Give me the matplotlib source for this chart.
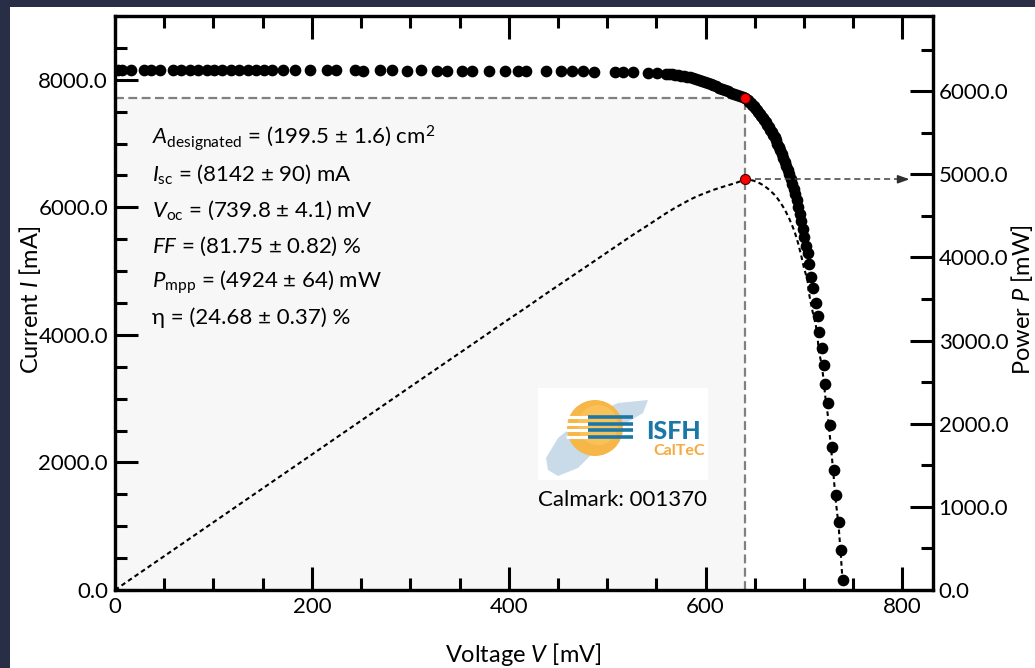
import matplotlib
matplotlib.use("Agg")
import matplotlib.pyplot as plt
from matplotlib.patches import Rectangle, Circle, Ellipse, Polygon
from matplotlib.ticker import MultipleLocator, FuncFormatter
import numpy as np

# ---------------- data ----------------
voltage_mV = [3, 7, 16, 29, 37, 46, 59, 67, 76, 84, 93, 101, 109, 118, 126, 135, 143, 151, 160,
              171, 183, 198, 215, 225, 244, 252, 269, 281, 297, 311, 327, 337, 353, 363, 380,
              396, 409, 418, 438, 453, 464, 475, 487, 508, 516, 526, 541, 551,
              560, 563, 566, 569, 572, 575, 578, 581, 584, 587, 590, 593, 596, 599, 602, 605,
              608, 611, 614, 617, 620, 623, 626, 629, 632, 635, 638, 640,
              643, 644.5, 646, 647.5, 649, 650.5, 652, 653.5, 655, 656.5, 658, 659.5, 661,
              662.5, 664, 665.5, 667, 668.5, 670, 671.5, 673, 674.5, 676, 677.5, 679, 680.5,
              682, 683.5, 685, 686.5, 688, 689.5, 691, 692.5, 694, 695.5, 697, 698.5, 700,
              702, 703.6, 704.6, 706.6, 708.6, 711.7, 713.7, 714.7, 717.8,
              719.8, 721.5, 724.0, 726.0, 728.0, 730.0, 732.0, 735.0, 737.1, 739.1]
current_mA = [8150, 8155, 8155, 8150, 8155, 8150, 8152, 8150, 8150, 8152, 8150, 8150, 8152, 8150,
              8150, 8152, 8150, 8150, 8150,
              8152, 8150, 8150, 8148, 8150, 8148, 8145, 8150, 8148, 8145, 8148, 8145, 8140,
              8145, 8142, 8145, 8145, 8140, 8135, 8140, 8135, 8130, 8130, 8125, 8125, 8122,
              8120, 8105, 8100,
              8095, 8090, 8085, 8080, 8072, 8065, 8057, 8048, 8040, 8028, 8015, 8000, 7985,
              7968, 7952, 7935, 7917, 7898, 7878, 7858, 7838, 7817, 7796, 7775, 7757, 7740,
              7728, 7720,
              7680, 7658, 7635, 7610, 7585, 7558, 7530, 7500, 7470, 7438, 7405, 7370, 7335,
              7298, 7260, 7220, 7180, 7138, 7095, 7048, 7000, 6948, 6895, 6838, 6780, 6718,
              6655, 6588, 6520, 6445, 6370, 6290, 6205, 6110, 6010, 5895, 5780, 5655, 5530,
              5400, 5283, 5110, 4906, 4733, 4497, 4292,
              4041, 3789, 3522, 3235, 2925, 2594, 2248, 1887, 1494, 1069, 629, 157]

v_mpp = 640.0
i_mpp = 7720.0

param_lines = [
    r"$A_{\mathrm{designated}}$ = (199.5 ± 1.6) cm$^{2}$",
    r"$I_{\mathrm{sc}}$ = (8142 ± 90) mA",
    r"$V_{\mathrm{oc}}$ = (739.8 ± 4.1) mV",
    r"$FF$ = (81.75 ± 0.82) %",
    r"$P_{\mathrm{mpp}}$ = (4924 ± 64) mW",
    "η = (24.68 ± 0.37) %",
]
x_ticks = [0, 200, 400, 600, 800]
i_ticks = [0, 2000, 4000, 6000, 8000]
p_ticks = [0, 1000, 2000, 3000, 4000, 5000, 6000]

# power derived from the measured I-V points
V = np.array(voltage_mV)
I = np.array(current_mA)
P = np.concatenate([[0.0], V * I / 1000.0])
Vp = np.concatenate([[0.0], V])
p_mpp = v_mpp * i_mpp / 1000.0

# ---------------- style ----------------
FONT = ["Lato", "DejaVu Sans"]
plt.rcParams["font.family"] = FONT
plt.rcParams["mathtext.fontset"] = "custom"
plt.rcParams["mathtext.rm"] = "Lato"
plt.rcParams["mathtext.it"] = "Lato:italic"
plt.rcParams["mathtext.bf"] = "Lato:bold"

W, H = 1035, 668
fig = plt.figure(figsize=(W / 100, H / 100), dpi=100, facecolor="#272e45")
fig.patches.append(Rectangle((10 / W, 0), 1 - 10 / W, (H - 7) / H, transform=fig.transFigure,
                             facecolor="white", edgecolor="none", zorder=-10))

L, R, T, B = 115, 933, 16, 590
ax = fig.add_axes([L / W, (H - B) / H, (R - L) / W, (B - T) / H])
ax.set_facecolor("none")
ax2 = ax.twinx()

ax.set_xlim(0, 831)
ax.set_ylim(0, 9000)
ax2.set_ylim(0, 6905)

# shaded MPP rectangle and gray dashed guides
ax.add_patch(Rectangle((0, 0), v_mpp, i_mpp, facecolor="#f7f7f7", edgecolor="none", zorder=0))
gray_ls = (0, (4, 2))
ax.plot([0, v_mpp], [i_mpp, i_mpp], color="#808080", lw=1.6, ls=gray_ls, zorder=1)
ax.plot([v_mpp, v_mpp], [0, i_mpp], color="#808080", lw=1.6, ls=gray_ls, zorder=1)

# I-V dots
ax.plot(V, I, ls="none", marker="o", ms=7.4, color="black", zorder=3)
ax.plot([v_mpp], [i_mpp], ls="none", marker="o", ms=7.2, mfc="red", mec="#400000", mew=0.8, zorder=5)

# power curve
ax2.plot(Vp, P, color="black", lw=1.5, ls=(0, (2.2, 1.6)), zorder=4)
ax2.plot([v_mpp, 805], [p_mpp, p_mpp], color="#404040", lw=1.1, ls=(0, (4, 2.5)), zorder=4)
ax2.annotate("", xy=(810, p_mpp), xytext=(798, p_mpp),
             arrowprops=dict(arrowstyle="-|>,head_length=0.7,head_width=0.25",
                             color="#303030", lw=1.1), zorder=4)
ax2.plot([v_mpp], [p_mpp], ls="none", marker="o", ms=7.2, mfc="red", mec="#400000", mew=0.8, zorder=6)

# parameter text
y0 = 7090
dy = 565
for k, line in enumerate(param_lines):
    ax.text(38, y0 - k * dy, line, fontsize=16, va="center", ha="left", family=FONT, zorder=6)

ax.text(516, 1410, "Calmark: 001370", fontsize=16, ha="center", va="center", zorder=6)

# ticks
for a in (ax, ax2):
    for s in a.spines.values():
        s.set_linewidth(2.3)
ax.xaxis.set_minor_locator(MultipleLocator(50))
ax.yaxis.set_minor_locator(MultipleLocator(500))
ax2.yaxis.set_minor_locator(MultipleLocator(500))
ax.set_xticks(x_ticks)
ax.set_yticks(i_ticks)
ax2.set_yticks(p_ticks)
ax.xaxis.set_major_formatter(FuncFormatter(lambda v, p: f"{v:.0f}"))
ax.yaxis.set_major_formatter(FuncFormatter(lambda v, p: f"{v:.1f}"))
ax2.yaxis.set_major_formatter(FuncFormatter(lambda v, p: f"{v:.1f}"))
ax.tick_params(axis="x", which="both", direction="in", top=True, bottom=True, width=2.2,
               labelsize=16, pad=5)
ax.tick_params(axis="y", which="both", direction="in", left=True, right=False, width=2.2,
               labelsize=16, pad=5)
ax2.tick_params(axis="y", which="both", direction="in", right=True, left=False, width=2.2,
                labelsize=16, pad=4)
for a in (ax, ax2):
    a.tick_params(which="major", length=16.5)
    a.tick_params(which="minor", length=8.5)

# axis labels
fig.text(30 / W, 1 - 300 / H, r"Current $I$ [mA]", rotation=90, fontsize=17, ha="center", va="center")
fig.text(523 / W, 1 - 655 / H, r"Voltage $V$ [mV]", fontsize=17, ha="center", va="center")
fig.text(1022 / W, 1 - 300 / H, r"Power $P$ [mW]", rotation=90, fontsize=17, ha="center", va="center")

# logo (decorative)
lg = fig.add_axes([538 / W, (H - 480) / H, 170 / W, 92 / H])
lg.set_xlim(0, 170)
lg.set_ylim(92, 0)
lg.axis("off")
lg.add_patch(Rectangle((0, 0), 170, 92, facecolor="white", edgecolor="none"))
brush = [(8, 70), (20, 50), (45, 30), (80, 15), (110, 12), (105, 25), (80, 40),
         (60, 60), (40, 80), (20, 88), (10, 82)]
lg.add_patch(Polygon(brush, closed=True, facecolor="#b3cbe0", edgecolor="none", alpha=0.7))
lg.add_patch(Circle((57, 40), 28, facecolor="#f7b648", edgecolor="none"))
lg.add_patch(Circle((60, 37), 20, facecolor="#fbc964", edgecolor="none", alpha=0.6))
for sy in (29, 35.5, 42, 48.5):
    lg.plot([28, 50], [sy, sy], color="white", lw=2.2, solid_capstyle="butt")
    lg.plot([50, 95], [sy, sy], color="#1a78a8", lw=2.6, solid_capstyle="butt")
lg.text(108, 51, "ISFH", fontsize=18, fontweight="black", color="#1a78a8", ha="left", va="baseline")
lg.text(167, 67, "CalTeC", fontsize=11.5, fontweight="bold", color="#f4aa3c", ha="right", va="baseline")

fig.savefig("out.png", dpi=100, facecolor=fig.get_facecolor())
